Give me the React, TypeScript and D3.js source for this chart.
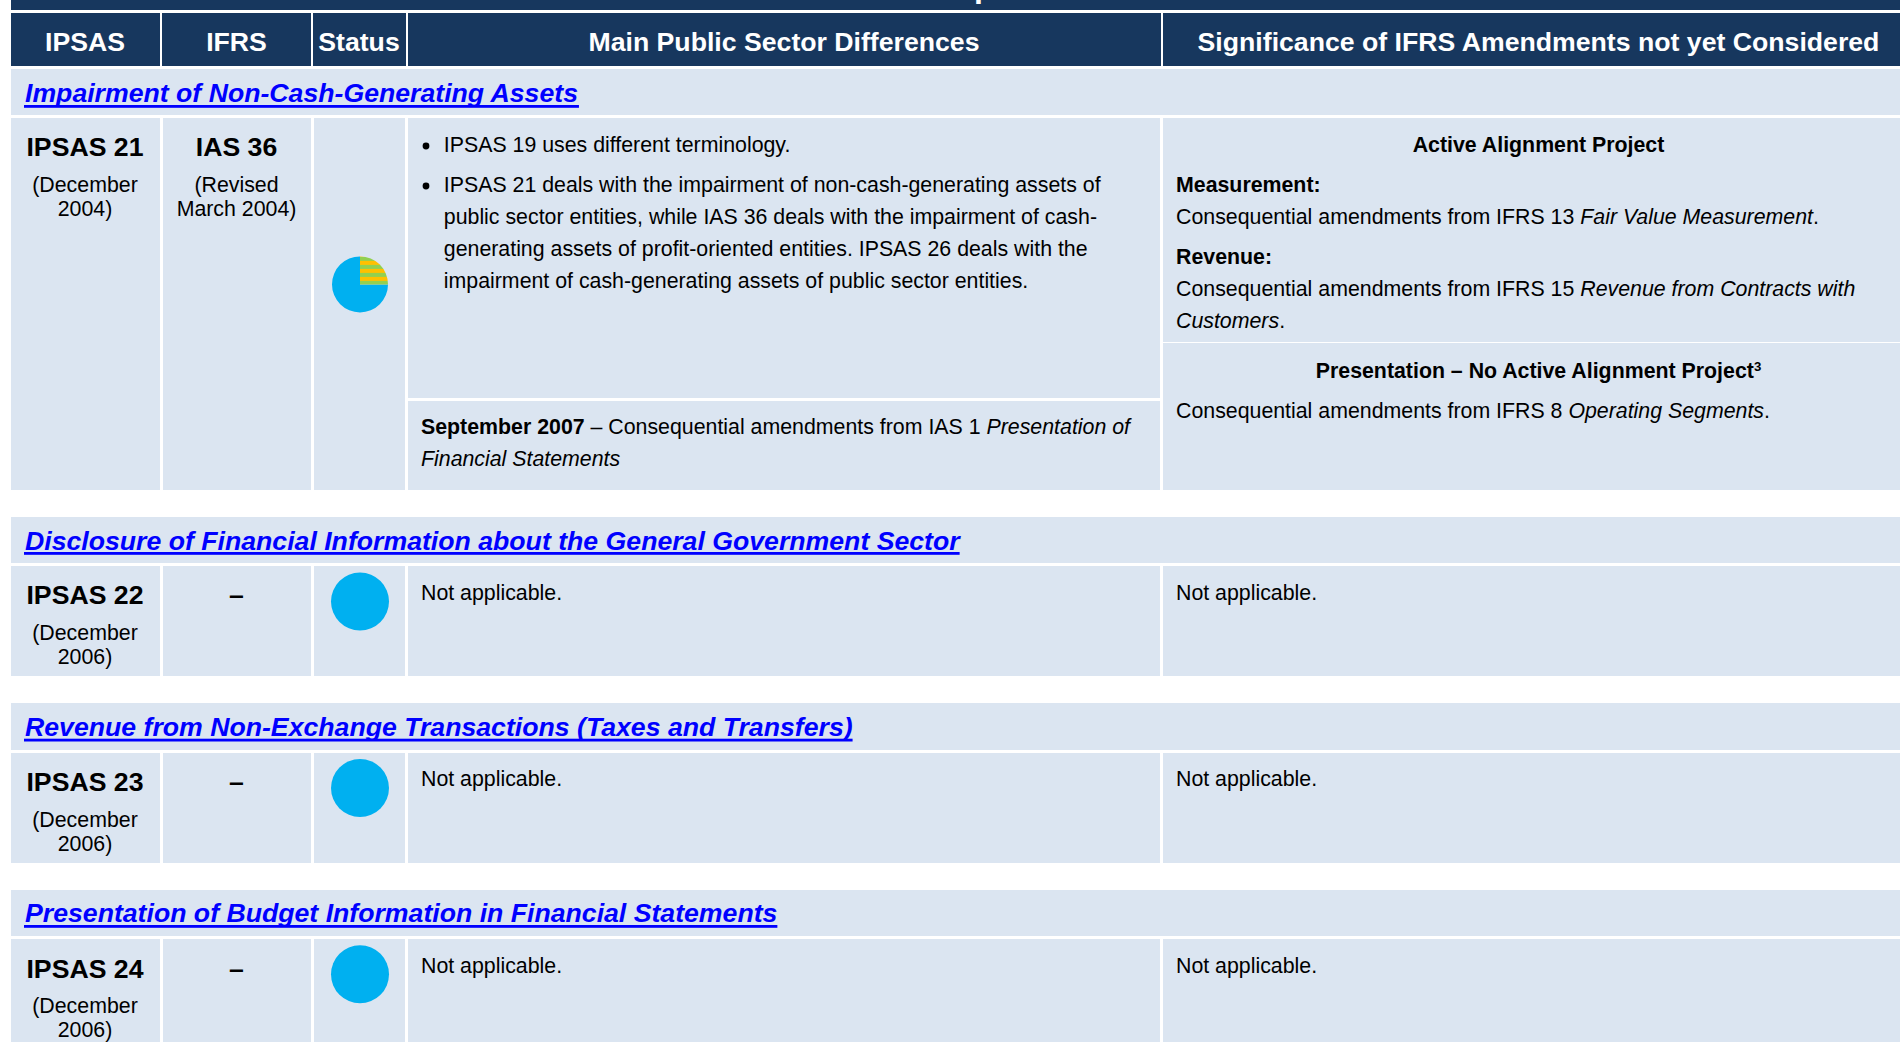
import React from "react";
import * as d3 from "d3";

const headers = ["IPSAS", "IFRS", "Status", "Main Public Sector Differences", "Significance of IFRS Amendments not yet Considered"];
const sectionTitles = [
  "Impairment of Non-Cash-Generating Assets",
  "Disclosure of Financial Information about the General Government Sector",
  "Revenue from Non-Exchange Transactions (Taxes and Transfers)",
  "Presentation of Budget Information in Financial Statements",
];
const ipsasNames = ["IPSAS 21", "IPSAS 22", "IPSAS 23", "IPSAS 24"];
const ipsasDates = [["(December", "2004)"], ["(December", "2006)"], ["(December", "2006)"], ["(December", "2006)"]];
const ifrsNames = ["IAS 36", "–", "–", "–"];
const ifrsDates = [["(Revised", "March 2004)"], [], [], []];
// Status pie: share with stripes, share in solid blue
const stripedShare = [25, 0, 0, 0];
const solidShare = [75, 100, 100, 100];
const notApplicable = "Not applicable.";

const NAVY = "#17375E", CELL = "#DBE5F1", BLUE = "#00B0F0", GOLD = "#FFC000", GREEN = "#92D050", LINK = "#0000FF";
const FONT = "'Liberation Sans', Arial, sans-serif";
const BODY = 21.33;
const BIG = 26.67;

const colX: [number, number][] = [[11, 160], [163, 311], [314, 405], [408, 1160], [1163, 1900]];
const headX: [number, number][] = [[11, 160], [162, 311], [313, 406], [408, 1161], [1163, 1900]];
const headC = [85, 236.5, 359, 784, 1538.5];
const sectionTop = [69, 517, 703, 890];
const sectionBottom = [115, 563, 750, 936];
const cellTop = [118, 566, 753, 939];
const cellBottom = [490, 676, 863, 1050];
const titleBase = [101.7, 549.5, 735.6, 921.7];
const underlineY = [105, 552, 738.7, 925];
const nameBase = [156, 604, 791, 977.5];
const dateBase = [[192, 216], [639.6, 663.6], [826.8, 850.8], [1013, 1037]];
const plainBase = [0, 600, 786, 972.5];
const pieC = [284.4, 601.5, 788, 974.3];
const pieR = [28, 29, 29, 29];

function textWidth(s: string, font: string) {
  const ctx = document.createElement("canvas").getContext("2d")!;
  ctx.font = font;
  return ctx.measureText(s).width;
}

type Run = { t: string; b?: boolean; i?: boolean; sup?: boolean };
const T = ({ x, y, runs, anchor, size = BODY, fill = "#000" }: { x: number; y: number; runs: Run[]; anchor?: string; size?: number; fill?: string }) => (
  <text x={x} y={y} textAnchor={anchor as any} fontSize={size} fontFamily={FONT} fill={fill} xmlSpace="preserve">
    {runs.map((r, i) => (
      <tspan key={i} fontWeight={r.b ? 700 : 400} fontStyle={r.i ? "italic" : "normal"} dy={r.sup ? -7 : undefined} fontSize={r.sup ? size * 0.62 : undefined}>{r.t}</tspan>
    ))}
  </text>
);

export default function App() {
  const pie = d3.pie<number>().sort(null);
  return (
    <svg width={1900} height={1042} style={{ position: "fixed", left: 0, top: 0, background: "#fff" }}>
      <defs>
        <pattern id="stripes" patternUnits="userSpaceOnUse" x={0} y={256.5} width={8} height={8}>
          <rect width={8} height={4} fill={GOLD} />
          <rect y={4} width={8} height={4} fill={GREEN} />
        </pattern>
      </defs>
      <rect x={11} y={0} width={1889} height={10} fill={NAVY} />
      <text x={974} y={-3.5} fontSize={32} fontWeight={700} fontFamily={FONT} fill="#fff">p</text>
      {headers.map((h, i) => (
        <g key={h}>
          <rect x={headX[i][0]} y={13} width={headX[i][1] - headX[i][0]} height={53} fill={NAVY} />
          <text x={headC[i]} y={50.7} textAnchor="middle" fontSize={BIG} fontWeight={700} fontFamily={FONT} fill="#fff">{h}</text>
        </g>
      ))}
      {sectionTitles.map((title, k) => {
        const arcs = pie([stripedShare[k], solidShare[k]]);
        const arc = d3.arc<d3.PieArcDatum<number>>().innerRadius(0).outerRadius(pieR[k]);
        const w = textWidth(title, `italic 700 ${BIG}px 'Liberation Sans'`);
        return (
          <g key={title}>
            <rect x={11} y={sectionTop[k]} width={1889} height={sectionBottom[k] - sectionTop[k]} fill={CELL} />
            <text x={25} y={titleBase[k]} fontSize={BIG} fontWeight={700} fontStyle="italic" fontFamily={FONT} fill={LINK}>{title}</text>
            <rect x={24} y={underlineY[k]} width={w + 1} height={2.8} fill={LINK} />
            {colX.map((c, i) => (
              <rect key={i} x={c[0]} y={cellTop[k]} width={c[1] - c[0]} height={cellBottom[k] - cellTop[k]} fill={CELL} />
            ))}
            <text x={85} y={nameBase[k]} textAnchor="middle" fontSize={BIG} fontWeight={700} fontFamily={FONT}>{ipsasNames[k]}</text>
            {ipsasDates[k].map((d, j) => <T key={j} x={85} y={dateBase[k][j]} anchor="middle" runs={[{ t: d }]} />)}
            <text x={236.5} y={nameBase[k]} textAnchor="middle" fontSize={BIG} fontWeight={700} fontFamily={FONT}>{ifrsNames[k]}</text>
            {ifrsDates[k].map((d, j) => <T key={j} x={236.5} y={dateBase[k][j]} anchor="middle" runs={[{ t: d }]} />)}
            <g transform={`translate(360,${pieC[k]})`}>
              <path d={arc(arcs[1]) as string} fill={BLUE} />
            </g>
            {arcs[0].value > 0 && (
              <path d={arc(arcs[0]) as string} transform={`translate(360,${pieC[k]})`} fill="url(#stripes)" />
            )}
            {k > 0 && <T x={421} y={plainBase[k]} runs={[{ t: notApplicable }]} />}
            {k > 0 && <T x={1176} y={plainBase[k]} runs={[{ t: notApplicable }]} />}
          </g>
        );
      })}

      {/* First row's detailed text */}
      <circle cx={426} cy={146} r={3.4} fill="#000" />
      <T x={443.8} y={151.7} runs={[{ t: "IPSAS 19 uses different terminology." }]} />
      <circle cx={426} cy={186} r={3.4} fill="#000" />
      <T x={443.8} y={191.7} runs={[{ t: "IPSAS 21 deals with the impairment of non-cash-generating assets of" }]} />
      <T x={443.8} y={223.7} runs={[{ t: "public sector entities, while IAS 36 deals with the impairment of cash-" }]} />
      <T x={443.8} y={255.7} runs={[{ t: "generating assets of profit-oriented entities. IPSAS 26 deals with the" }]} />
      <T x={443.8} y={287.7} runs={[{ t: "impairment of cash-generating assets of public sector entities." }]} />
      <rect x={408} y={398} width={752} height={3} fill="#fff" />
      <T x={421} y={433.8} runs={[{ t: "September 2007", b: true }, { t: " – Consequential amendments from IAS 1 " }, { t: "Presentation of", i: true }]} />
      <T x={421} y={465.7} runs={[{ t: "Financial Statements", i: true }]} />

      <T x={1538.5} y={151.7} anchor="middle" runs={[{ t: "Active Alignment Project", b: true }]} />
      <T x={1176} y={191.7} runs={[{ t: "Measurement:", b: true }]} />
      <T x={1176} y={223.5} runs={[{ t: "Consequential amendments from IFRS 13 " }, { t: "Fair Value Measurement", i: true }, { t: "." }]} />
      <T x={1176} y={263.5} runs={[{ t: "Revenue:", b: true }]} />
      <T x={1176} y={295.5} runs={[{ t: "Consequential amendments from IFRS 15 " }, { t: "Revenue from Contracts with", i: true }]} />
      <T x={1176} y={327.5} runs={[{ t: "Customers", i: true }, { t: "." }]} />
      <rect x={1163} y={342} width={737} height={1} fill="#fff" />
      <T x={1538.5} y={377.7} anchor="middle" runs={[{ t: "Presentation – No Active Alignment Project", b: true }, { t: "3", b: true, sup: true }]} />
      <T x={1176} y={417.7} runs={[{ t: "Consequential amendments from IFRS 8 " }, { t: "Operating Segments", i: true }, { t: "." }]} />
    </svg>
  );
}
